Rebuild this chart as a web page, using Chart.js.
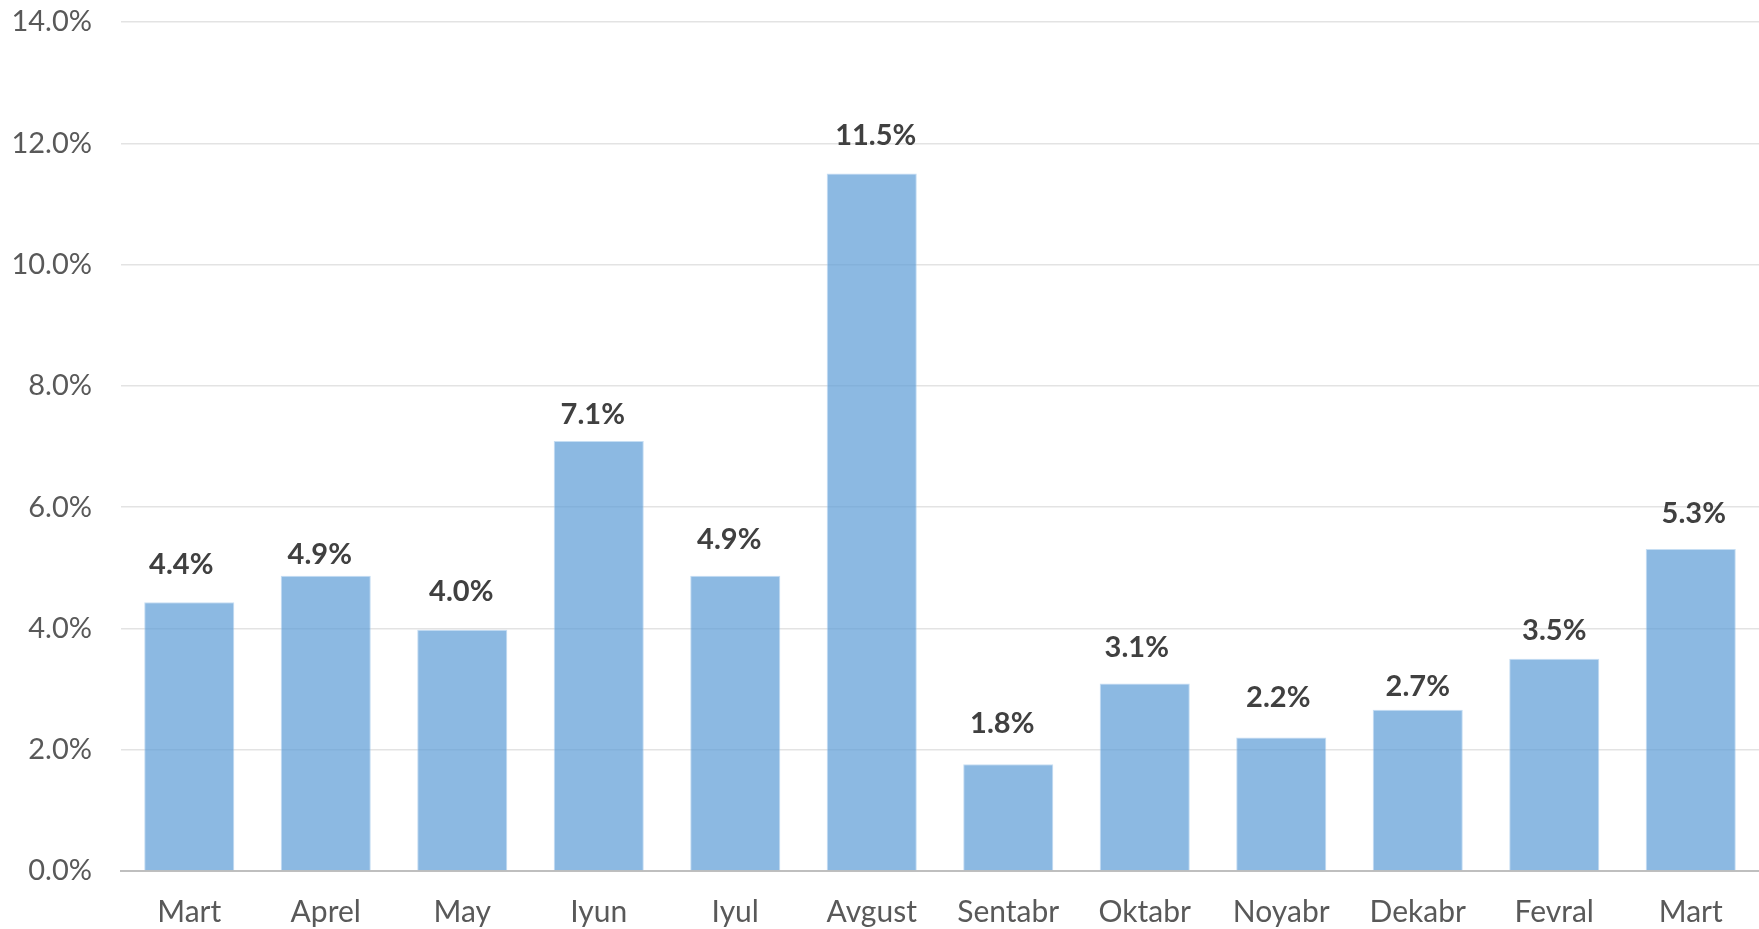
<!DOCTYPE html>
<html>
<head>
<meta charset="utf-8">
<script src="https://cdn.jsdelivr.net/npm/chart.js@4/dist/chart.umd.min.js"></script>
<style>
  html, body { margin: 0; padding: 0; background: #ffffff; }
  #wrap { width: 1759px; height: 929px; position: relative; }
</style>
</head>
<body>
<div id="wrap"><canvas id="c"></canvas></div>
<script>
const categories = ["Mart", "Aprel", "May", "Iyun", "Iyul", "Avgust", "Sentabr", "Oktabr", "Noyabr", "Dekabr", "Fevral", "Mart"];
const values = [4.43, 4.87, 3.98, 7.09, 4.87, 11.5, 1.76, 3.09, 2.2, 2.66, 3.5, 5.31];
const yTickValues = [0, 2, 4, 6, 8, 10, 12, 14];

// label placement as in the reference (pixel nudges, not data)
const labelPlugin = {
  id: 'barLabels',
  nudgeY: [38, 21, 38, 26, 36, 38, 41, 36, 40, 23, 28, 35],
  nudgeX: [-8, -6, -1, -6, -6, 4, -6, -8, -3, 0, 0, 3],
  afterDatasetsDraw(chart) {
    const ctx = chart.ctx;
    const meta = chart.getDatasetMeta(0);
    ctx.save();
    ctx.font = 'bold 29px Lato';
    ctx.fillStyle = '#404040';
    ctx.textAlign = 'center';
    ctx.textBaseline = 'middle';
    meta.data.forEach((bar, i) => {
      ctx.fillText(values[i].toFixed(1) + '%', bar.x + this.nudgeX[i], bar.y - this.nudgeY[i]);
    });
    ctx.restore();
  }
};

new Chart(document.getElementById('c'), {
  type: 'bar',
  data: {
    labels: categories,
    datasets: [{
      data: values,
      backgroundColor: 'rgba(91,155,213,0.7)',
      borderColor: 'rgba(160,200,235,0.6)',
      borderWidth: 1,
      barPercentage: 0.66,
      categoryPercentage: 1.0
    }]
  },
  options: {
    responsive: true,
    maintainAspectRatio: false,
    animation: false,
    devicePixelRatio: 1,
    layout: { padding: { top: 22, left: 0, right: 0, bottom: 0 } },
    plugins: { legend: { display: false }, tooltip: { enabled: false } },
    scales: {
      x: {
        grid: { display: false, drawTicks: false },
        border: { display: true, color: '#bfbfbf', width: 2 },
        ticks: { color: '#595959', font: { family: 'Lato', size: 30 }, padding: 23, maxRotation: 0, autoSkip: false },
        afterFit(scale) { scale.height = 58; scale.paddingLeft = 0; scale.paddingRight = 0; }
      },
      y: {
        min: 0,
        max: 14,
        afterBuildTicks(scale) { scale.ticks = yTickValues.map(v => ({ value: v })); },
        grid: { color: '#e3e3e3', lineWidth: 1.5, drawTicks: false },
        border: { display: false },
        ticks: {
          color: '#595959',
          font: { family: 'Lato', size: 29 },
          padding: 29,
          callback: v => v.toFixed(1) + '%'
        },
        afterFit(scale) { scale.width = 121; scale.paddingTop = 0; scale.paddingBottom = 0; }
      }
    }
  },
  plugins: [labelPlugin]
});
</script>
</body>
</html>
